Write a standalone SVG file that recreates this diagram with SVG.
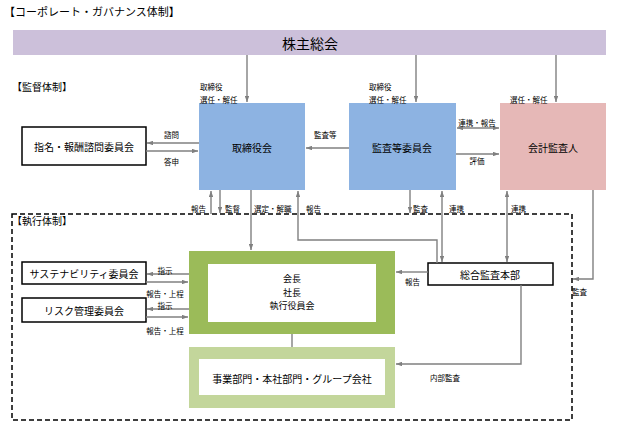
<svg xmlns="http://www.w3.org/2000/svg" width="620" height="438" viewBox="0 0 620 438">
<defs>
<style>
text{font-family:"Noto Sans CJK JP","Noto Sans",sans-serif;fill:#000}
.t{font-size:10px;text-anchor:middle;dominant-baseline:central}
.s{font-size:7.5px}
.sc{font-size:7.5px;text-anchor:middle;dominant-baseline:central}
.h{font-size:11px}
.c{fill:none;stroke:#808080;stroke-width:1.4}
.a{marker-end:url(#ar)}
.b{marker-start:url(#ars);marker-end:url(#ar)}
.box{fill:#fff;stroke:#000;stroke-width:1.5}
</style>
<marker id="ar" viewBox="0 0 8 6" refX="8" refY="3" markerWidth="6" markerHeight="4.5" orient="auto" markerUnits="userSpaceOnUse">
<path d="M0,0 L8,3 L0,6 z" fill="#808080"/>
</marker>
<marker id="ars" viewBox="0 0 8 6" refX="0" refY="3" markerWidth="6" markerHeight="4.5" orient="auto" markerUnits="userSpaceOnUse">
<path d="M8,0 L0,3 L8,6 z" fill="#808080"/>
</marker>
</defs>
<rect width="620" height="438" fill="#fff"/>
<text class="h" x="4" y="16">【コーポレート・ガバナンス体制】</text>
<text class="h" x="12" y="91" style="font-size:10px">【監督体制】</text>

<g id="shareholders">
<rect x="13" y="30" width="593" height="25" fill="#ccc0da"/>
<text class="t" x="310" y="43" style="font-size:14px">株主総会</text>
</g>
<g id="board">
<rect x="199" y="103" width="106" height="87" fill="#8db3e2"/>
<text class="t" x="252" y="147">取締役会</text>
</g>
<g id="audit-committee">
<rect x="349" y="103" width="107" height="87" fill="#8db3e2"/>
<text class="t" x="402" y="147">監査等委員会</text>
</g>
<g id="accounting-auditor">
<rect x="500" y="103" width="106" height="87" fill="#e6b8b7"/>
<text class="t" x="553" y="147">会計監査人</text>
</g>
<g id="nomination">
<rect class="box" x="22" y="127" width="124" height="38"/>
<text class="t" x="84" y="146">指名・報酬諮問委員会</text>
</g>
<g id="execution-frame">
<rect x="12" y="214" width="560" height="206" fill="none" stroke="#000" stroke-width="1.5" stroke-dasharray="5,3"/>
<text x="12" y="225" style="font-size:10px">【執行体制】</text>
</g>
<g id="sustainability">
<rect class="box" x="22" y="262" width="124" height="22"/>
<text class="t" x="84" y="273">サステナビリティ委員会</text>
</g>
<g id="risk">
<rect class="box" x="22" y="298" width="124" height="24"/>
<text class="t" x="84" y="310">リスク管理委員会</text>
</g>
<g id="executives">
<rect x="189" y="251" width="206" height="83" fill="#9bbb59"/>
<rect x="208" y="264" width="168" height="58" fill="#fff"/>
<text class="t" x="292" y="278.5" style="font-size:9px">会長</text>
<text class="t" x="292" y="292" style="font-size:9px">社長</text>
<text class="t" x="292" y="305.5" style="font-size:9px">執行役員会</text>
</g>
<g id="business">
<rect x="189" y="347" width="206" height="61" fill="#c3d69b"/>
<rect x="199" y="359" width="186" height="36" fill="#fff"/>
<text class="t" x="292" y="378">事業部門・本社部門・グループ会社</text>
</g>
<g id="internal-audit">
<rect class="box" x="428" y="263" width="125" height="22"/>
<text class="t" x="490" y="274">総合監査本部</text>
</g>

<g id="connectors">
<line class="c a" x1="247" y1="55" x2="247" y2="102"/>
<line class="c a" x1="416" y1="55" x2="416" y2="102"/>
<line class="c a" x1="556" y1="55" x2="556" y2="102"/>
<line class="c a" x1="199" y1="143" x2="147" y2="143"/>
<line class="c a" x1="146" y1="151" x2="198" y2="151"/>
<line class="c a" x1="349" y1="148" x2="306" y2="148"/>
<line class="c b" x1="457" y1="128" x2="499" y2="128"/>
<line class="c a" x1="456" y1="154" x2="499" y2="154"/>
<line class="c a" x1="211" y1="214" x2="211" y2="191"/>
<line class="c a" x1="220" y1="190" x2="220" y2="213"/>
<line class="c a" x1="251" y1="190" x2="251" y2="250"/>
<polyline class="c a" points="437,263 437,240 298,240 298,191"/>
<line class="c a" x1="410" y1="190" x2="410" y2="213"/>
<line class="c b" x1="442" y1="191" x2="442" y2="262"/>
<line class="c b" x1="507" y1="191" x2="507" y2="262"/>
<polyline class="c a" points="593,190 593,279 573,279"/>
<line class="c a" x1="428" y1="272" x2="396" y2="272"/>
<polyline class="c a" points="521,285 521,364 396,364"/>
<line class="c" x1="292" y1="334" x2="292" y2="347"/>
<line class="c a" x1="189" y1="274" x2="147" y2="274"/>
<line class="c a" x1="146" y1="282" x2="188" y2="282"/>
<line class="c a" x1="189" y1="309" x2="147" y2="309"/>
<line class="c a" x1="146" y1="317" x2="188" y2="317"/>
</g>

<g id="labels">
<text class="s" x="200" y="90">取締役</text>
<text class="s" x="200" y="103">選任・解任</text>
<text class="s" x="369" y="90">取締役</text>
<text class="s" x="369" y="103">選任・解任</text>
<text class="s" x="510" y="103">選任・解任</text>
<text class="s" x="164" y="138">諮問</text>
<text class="s" x="164" y="165">答申</text>
<text class="s" x="314" y="138">監査等</text>
<text class="sc" x="477" y="122">連携・報告</text>
<text class="sc" x="477" y="160">評価</text>
<text class="s" x="191" y="212">報告</text>
<text class="s" x="225" y="212">監督</text>
<text class="s" x="254" y="212">選定・解職</text>
<text class="s" x="306" y="212">報告</text>
<text class="s" x="413" y="212">監査</text>
<text class="s" x="449" y="212">連携</text>
<text class="s" x="511" y="212">連携</text>
<text class="s" x="572" y="295">監査</text>
<text class="s" x="405" y="285">報告</text>
<text class="s" x="430" y="381">内部監査</text>
<text class="sc" x="165" y="270">指示</text>
<text class="sc" x="165" y="293">報告・上程</text>
<text class="sc" x="165" y="305">指示</text>
<text class="sc" x="165" y="330">報告・上程</text>
</g>
</svg>
